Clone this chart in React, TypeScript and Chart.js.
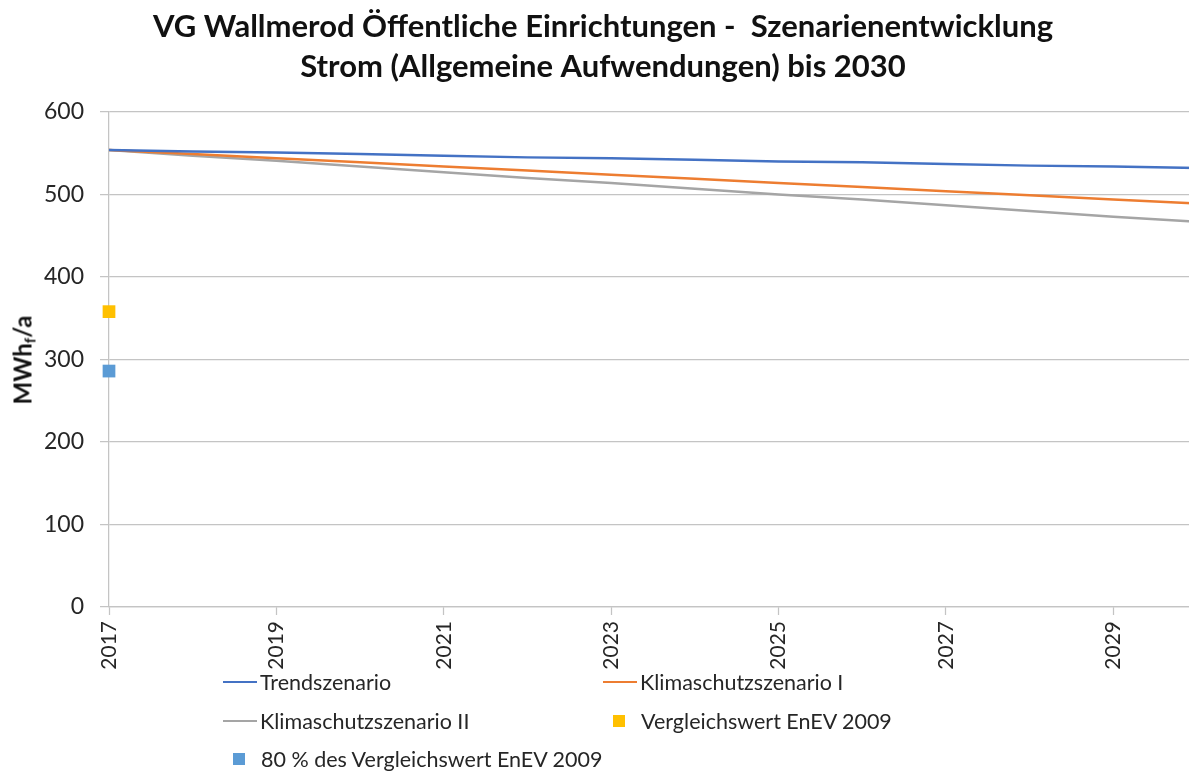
import React, { useEffect, useRef } from 'react';
import { Chart, registerables } from 'chart.js';

Chart.register(...registerables);

const years = ['2017', '2018', '2019', '2020', '2021', '2022', '2023', '2024', '2025', '2026', '2027', '2028', '2029', '2030'];
const trendszenario = [554, 552, 551, 549, 547, 545, 544, 542, 540, 539, 537, 535, 534, 532];
const klimaschutzszenarioI = [554, 549, 544, 539, 534, 529, 524, 519, 514, 509, 504, 499, 494, 489];
const klimaschutzszenarioII = [554, 547, 541, 534, 527, 520, 514, 507, 500, 494, 487, 480, 473, 467];
const vergleichswert = [358, null, null, null, null, null, null, null, null, null, null, null, null, null];
const vergleichswert80 = [286, null, null, null, null, null, null, null, null, null, null, null, null, null];
const titleLines = ['VG Wallmerod Öffentliche Einrichtungen -  Szenarienentwicklung', 'Strom (Allgemeine Aufwendungen) bis 2030'];
const yMin = 0;
const yMax = 600;
const yStep = 100;

const FONT = 'Lato, "Open Sans", sans-serif';
const GRID = '#C4C4C4';
const TEXT = '#262626';

const legendItems = [
  { label: 'Trendszenario', color: '#4472C4', kind: 'line', x: 223, y: 682 },
  { label: 'Klimaschutzszenario I', color: '#ED7D31', kind: 'line', x: 603, y: 682 },
  { label: 'Klimaschutzszenario II', color: '#A5A5A5', kind: 'line', x: 223, y: 721 },
  { label: 'Vergleichswert EnEV 2009', color: '#FFC000', kind: 'rect', x: 613, y: 721 },
  { label: '80 % des Vergleichswert EnEV 2009', color: '#5B9BD5', kind: 'rect', x: 233, y: 759 },
];

export default function App() {
  const ref = useRef<HTMLCanvasElement | null>(null);

  useEffect(() => {
    if (!ref.current) return;
    const chart = new Chart(ref.current, {
      type: 'line',
      data: {
        labels: years,
        datasets: [
          { label: 'Trendszenario', data: trendszenario, borderColor: '#4472C4', backgroundColor: '#4472C4', borderWidth: 2.5, pointRadius: 0, tension: 0 },
          { label: 'Klimaschutzszenario I', data: klimaschutzszenarioI, borderColor: '#ED7D31', backgroundColor: '#ED7D31', borderWidth: 2.5, pointRadius: 0, tension: 0 },
          { label: 'Klimaschutzszenario II', data: klimaschutzszenarioII, borderColor: '#A5A5A5', backgroundColor: '#A5A5A5', borderWidth: 2.5, pointRadius: 0, tension: 0 },
          { label: 'Vergleichswert EnEV 2009', data: vergleichswert, showLine: false, pointStyle: 'rect', pointRadius: 9, pointBorderWidth: 0, borderColor: '#FFC000', backgroundColor: '#FFC000', clip: false },
          { label: '80 % des Vergleichswert EnEV 2009', data: vergleichswert80, showLine: false, pointStyle: 'rect', pointRadius: 9, pointBorderWidth: 0, borderColor: '#5B9BD5', backgroundColor: '#5B9BD5', clip: false },
        ] as any,
      },
      options: {
        responsive: false,
        animation: false,
        devicePixelRatio: 1,
        layout: { padding: 0 },
        plugins: {
          legend: { display: false },
          tooltip: { enabled: false },
          title: {
            display: true,
            text: titleLines,
            color: '#111111',
            font: { family: FONT, size: 31, weight: 'bold', lineHeight: 40 / 31 },
            padding: { top: 7, bottom: 25 },
          },
        },
        scales: {
          x: {
            type: 'category',
            offset: false,
            grid: {
              drawOnChartArea: false,
              drawTicks: true,
              tickLength: 8,
              tickWidth: 1.25,
              tickColor: (ctx: any) => (ctx.index % 2 === 0 ? GRID : 'rgba(0,0,0,0)'),
            },
            border: { display: true, color: GRID, width: 1.25 },
            ticks: {
              autoSkip: false,
              maxRotation: 90,
              minRotation: 90,
              padding: 6,
              color: TEXT,
              font: { family: FONT, size: 21 },
              callback: (_v: any, i: number) => (i % 2 === 0 ? years[i] : ''),
            },
            afterFit: (scale: any) => {
              scale.height = 167;
              scale.paddingLeft = 0;
              scale.paddingRight = 0;
            },
          },
          y: {
            min: yMin,
            max: yMax,
            ticks: {
              stepSize: yStep,
              padding: 16,
              color: TEXT,
              font: { family: FONT, size: 23 },
            },
            grid: { color: GRID, lineWidth: 1.25, tickLength: 9, drawTicks: true, tickColor: GRID },
            border: { display: true, color: GRID, width: 1.25 },
            afterFit: (scale: any) => {
              scale.width = 109;
              scale.paddingTop = 0;
              scale.paddingBottom = 0;
            },
          },
        },
      } as any,
    });
    return () => chart.destroy();
  }, []);

  return (
    <div style={{ position: 'fixed', left: 0, top: 0, width: 1189, height: 774, overflow: 'hidden', background: '#fff' }}>
      <canvas ref={ref} width={1206} height={774} style={{ position: 'absolute', left: 0, top: 0, width: 1206, height: 774 }} />
      <div
        style={{
          position: 'absolute',
          left: 24,
          top: 360,
          transform: 'translate(-50%, -50%) rotate(-90deg)',
          whiteSpace: 'nowrap',
          fontFamily: FONT,
          fontWeight: 'bold',
          fontSize: 24,
          color: '#111',
          lineHeight: 1,
        }}
      >
        MWh<sub style={{ fontSize: 15, verticalAlign: -4 }}>f</sub>/a
      </div>
      {legendItems.map((it) => (
        <div
          key={it.label}
          style={{
            position: 'absolute',
            left: it.x,
            top: it.y,
            transform: 'translateY(-50%)',
            display: 'flex',
            alignItems: 'center',
            whiteSpace: 'nowrap',
            fontFamily: FONT,
            fontSize: 21.5,
            color: TEXT,
          }}
        >
          {it.kind === 'line' ? (
            <span style={{ display: 'inline-block', width: 34, height: 2.5, background: it.color, marginRight: 3 }} />
          ) : (
            <span style={{ display: 'inline-block', width: 12, height: 12, background: it.color, marginRight: 16 }} />
          )}
          <span>{it.label}</span>
        </div>
      ))}
    </div>
  );
}
